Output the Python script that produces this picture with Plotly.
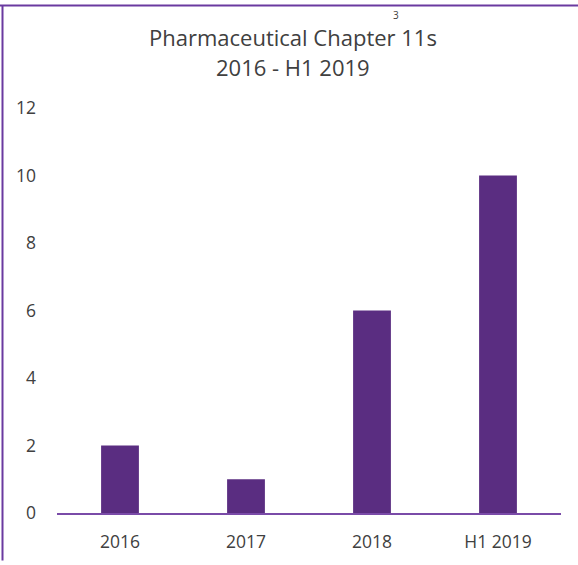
import plotly.graph_objects as go

categories = ["2016", "2017", "2018", "H1 2019"]
values = [2, 1, 6, 10]
y_ticks = [0, 2, 4, 6, 8, 10, 12]
title_line1 = "Pharmaceutical Chapter 11s"
title_line2 = "2016 - H1 2019"

W, H = 578, 565
L, R, T, B = 57, 17, 108, 48
font_family = "Open Sans, Liberation Sans, sans-serif"

fig = go.Figure(go.Bar(
    x=categories, y=values,
    marker=dict(color="#5A2D81", line=dict(width=0)),
    width=0.30,
))

def px(xp):
    return (xp - L) / (W - L - R)

def py(yp):
    return (H - B - yp) / (H - T - B)

fig.update_layout(
    width=W, height=H,
    margin=dict(l=L, r=R, t=T, b=B),
    paper_bgcolor="white", plot_bgcolor="white",
    showlegend=False,
    font=dict(family=font_family, color="#404040", size=17),
    xaxis=dict(
        showgrid=False, showline=True, linecolor="#7A4BA8", linewidth=2,
        ticks="", tickfont=dict(size=17.5, color="#404040"),
        ticklabelstandoff=12,
    ),
    yaxis=dict(
        range=[0, 12], tickvals=y_ticks, showgrid=False, showline=False,
        zeroline=False, ticks="", tickfont=dict(size=17.5, color="#404040"),
        ticklabelstandoff=20,
    ),
    annotations=[
        dict(text=title_line1, xref="paper", yref="paper", x=px(293), y=py(36),
             showarrow=False, font=dict(size=22, color="#404040"), xanchor="center", yanchor="middle",
             borderpad=0),
        dict(text=title_line2, xref="paper", yref="paper", x=px(293), y=py(67),
             showarrow=False, font=dict(size=22, color="#404040"), xanchor="center", yanchor="middle",
             borderpad=0),
        dict(text="3", xref="paper", yref="paper", x=px(396), y=py(14),
             showarrow=False, font=dict(size=10, color="#404040"), xanchor="center", yanchor="middle",
             borderpad=0),
    ],
    shapes=[
        dict(type="line", xref="paper", yref="paper", x0=px(0), x1=px(W), y0=py(4.5), y1=py(4.5),
             line=dict(color="#6A3AA0", width=2)),
        dict(type="line", xref="paper", yref="paper", x0=px(2.5), x1=px(2.5), y0=py(4), y1=py(H),
             line=dict(color="#6A3AA0", width=2)),
    ],
)

fig.write_html("out.html", config={"displayModeBar": False},
               post_script="document.body.style.margin='0px';document.body.style.padding='0px';")
